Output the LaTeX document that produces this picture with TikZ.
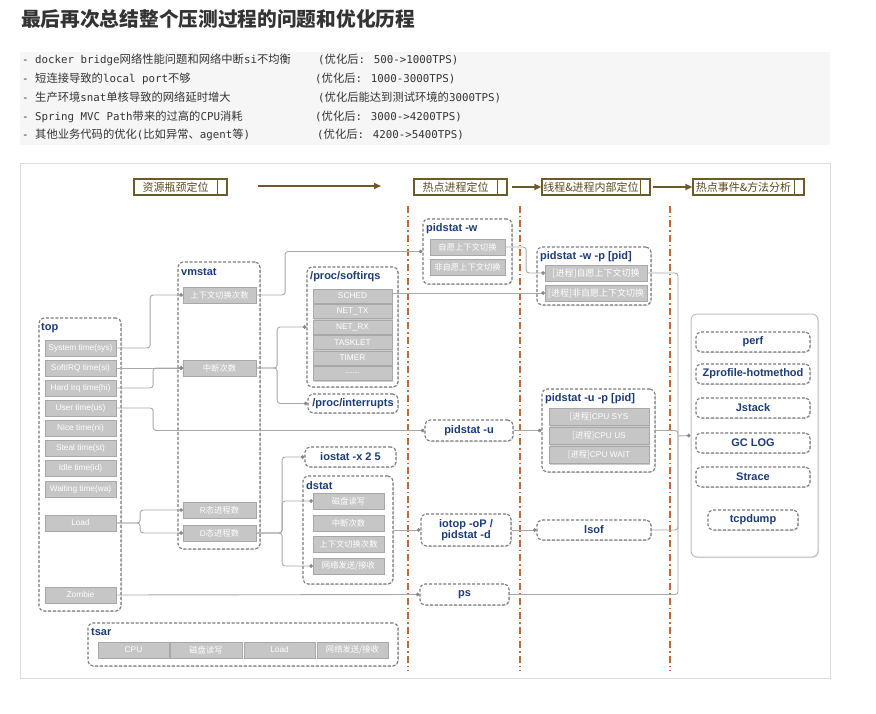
\documentclass[tikz,border=0pt]{standalone}
\usepackage{fontspec}
\setmainfont{Liberation Sans}
\setsansfont{Liberation Sans}
\newfontfamily\cjk{Noto Sans CJK SC}
\newfontfamily\mono{DejaVu Sans Mono}
\usetikzlibrary{arrows.meta,shadows}
\definecolor{ttl}{HTML}{1C3C78}
\definecolor{itemgray}{HTML}{C6C6C6}
\definecolor{dashgray}{HTML}{7A7A7A}
\definecolor{conngray}{HTML}{A8A8A8}
\definecolor{redline}{HTML}{C4683A}
\definecolor{hdrbrown}{HTML}{6E5A28}
\definecolor{hdrtext}{HTML}{5C4A1E}
\definecolor{listbg}{HTML}{F6F6F6}
\definecolor{listtext}{HTML}{333333}
\definecolor{framegray}{HTML}{DDDDDD}
\definecolor{toolborder}{HTML}{C0C0C0}
\newcommand\zh[1]{{\cjk #1}}
\newcommand\zl[1]{{\cjk\fontsize{11.3}{13}\selectfont #1}}
\begin{document}
\begin{tikzpicture}[x=1pt,y=-1pt,
  grp/.style={draw=dashgray, dash pattern=on 3pt off 1.8pt, line width=1.1pt, rounded corners=5pt, fill=white, inner sep=0pt,
    drop shadow={shadow xshift=0.8pt,shadow yshift=-0.8pt,opacity=0.25}},
  item/.style={fill=itemgray, draw=itemgray!85!black, line width=0.3pt, text=white, font=\sffamily\fontsize{8.3}{9}\selectfont,
    inner sep=0pt, minimum height=16pt, drop shadow={shadow xshift=1pt,shadow yshift=-1pt,opacity=0.4}},
  gtitle/.style={anchor=west, text=ttl, font=\sffamily\bfseries\fontsize{11}{12}\selectfont, inner sep=0pt},
  tool/.style={grp, text=ttl, font=\sffamily\bfseries\fontsize{11}{12}\selectfont, align=center},
  toolbox/.style={draw=toolborder, line width=1pt, rounded corners=6pt, fill=white, inner sep=0pt,
    drop shadow={shadow xshift=1pt,shadow yshift=-1pt,opacity=0.2}},
  connl/.style={draw=conngray, line width=0.9pt, rounded corners=3pt},
  conn/.style={connl, -{Circle[length=3.6pt,color=conngray!80!black]}},
  hdr/.style={draw=hdrbrown, line width=1.3pt, fill=white, text=hdrtext, font=\cjk\fontsize{11}{12}\selectfont,
    minimum height=16pt, inner sep=0pt,
    path picture={\draw[hdrbrown, line width=1pt] ([xshift=-10pt]path picture bounding box.north east) -- ([xshift=-10pt]path picture bounding box.south east);}},
  harrow/.style={draw=hdrbrown, line width=1.6pt, -{Triangle[length=7pt,width=6pt]}},
  redl/.style={draw=redline, line width=1.6pt, dash pattern=on 7pt off 3pt on 1.5pt off 3pt},
  lst/.style={anchor=base west, inner sep=0pt, text=listtext, font=\mono\fontsize{10.8}{13}\selectfont}
]
\useasboundingbox (0,0) rectangle (876,714);

% ---- heading and list ----
\node[anchor=base west, inner sep=0pt, text=listtext] (title) at (21,26.5)
  {\cjk\bfseries\fontsize{19.7}{22}\selectfont 最后再次总结整个压测过程的问题和优化历程};
\fill[listbg] (20,52) rectangle (830,145);
\node[lst] (l1) at (22,64) {- docker bridge\zl{网络性能问题和网络中断}si\zl{不均衡}};
\node[lst] (r1) at (318,64) {(\zl{优化后}: 500->1000TPS)};
\node[lst] (l2) at (22,83) {- \zl{短连接导致的}local port\zl{不够}};
\node[lst] (r2) at (315,83) {(\zl{优化后}: 1000-3000TPS)};
\node[lst] (l3) at (22,102) {- \zl{生产环境}snat\zl{单核导致的网络延时增大}};
\node[lst] (r3) at (318,102) {(\zl{优化后能达到测试环境的}3000TPS)};
\node[lst] (l4) at (22,121) {- Spring MVC Path\zl{带来的过高的}CPU\zl{消耗}};
\node[lst] (r4) at (315,121) {(\zl{优化后}: 3000->4200TPS)};
\node[lst] (l5) at (22,139) {- \zl{其他业务代码的优化}(\zl{比如异常、}agent\zl{等})};
\node[lst] (r5) at (317,139) {(\zl{优化后}: 4200->5400TPS)};

% ---- diagram frame ----
\draw[framegray, line width=0.8pt] (20,163) rectangle (830,678);

% ---- phase separators ----
\draw[redl] (408,206) -- (408,671);
\draw[redl] (520,206) -- (520,671);
\draw[redl] (670,206) -- (670,671);

% ---- phase headers ----
\node[hdr, minimum width=93pt] (h1) at (180.5,187) {\hspace{-10pt}资源瓶颈定位};
\node[hdr, minimum width=93pt] (h2) at (460.5,187) {\hspace{-10pt}热点进程定位};
\node[hdr, minimum width=108pt] (h3) at (596,187) {\hspace{-10pt}线程\&进程内部定位};
\node[hdr, minimum width=111pt] (h4) at (748.5,187) {\hspace{-10pt}热点事件\&方法分析};
\coordinate (a1s) at (258,186);
\coordinate (a1e) at (381,186);
\draw[harrow] (a1s) -- (a1e);
\draw[harrow] ([xshift=4pt]h2.east) -- (h3.west);
\draw[harrow] ([xshift=2pt]h3.east) -- (h4.west);

% ---- top ----
\node[grp, minimum width=82pt, minimum height=293pt] (gtop) at (80,464.5) {};
\node[gtitle] (ttop) at (41,328) {top};
\node[item, minimum width=71pt] (tsys) at (80.5,348) {System time(sys)};
\node[item, minimum width=71pt] (tsi) at (80.5,368) {SoftIRQ time(si)};
\node[item, minimum width=71pt] (thi) at (80.5,388) {Hard Irq time(hi)};
\node[item, minimum width=71pt] (tus) at (80.5,408) {User time(us)};
\node[item, minimum width=71pt] (tni) at (80.5,428) {Nice time(ni)};
\node[item, minimum width=71pt] (tst) at (80.5,448) {Steal time(st)};
\node[item, minimum width=71pt] (tid) at (80.5,468) {Idle time(id)};
\node[item, minimum width=71pt] (twa) at (80.5,489) {Waiting time(wa)};
\node[item, minimum width=71pt] (tload) at (80.5,523) {Load};
\node[item, minimum width=71pt] (tzom) at (80.5,595) {Zombie};

% ---- vmstat ----
\node[grp, minimum width=82pt, minimum height=287pt] (gvm) at (219,405.5) {};
\node[gtitle] (tvm) at (181,272) {vmstat};
\node[item, minimum width=73pt] (vctx) at (219.5,295) {\zh{上下文切换次数}};
\node[item, minimum width=73pt] (vint) at (219.5,368) {\zh{中断次数}};
\node[item, minimum width=73pt] (vr) at (219.5,510) {R\zh{态进程数}};
\node[item, minimum width=73pt] (vd) at (219.5,533) {D\zh{态进程数}};

% ---- /proc/softirqs ----
\node[grp, minimum width=91pt, minimum height=120pt] (gsirq) at (352.5,327) {};
\node[gtitle] (tsirq) at (310,277) {/proc/softirqs};
\node[item, minimum width=79pt, minimum height=14pt] (ssched) at (352.5,296) {SCHED};
\node[item, minimum width=79pt, minimum height=14pt] (stx) at (352.5,311.5) {NET\_TX};
\node[item, minimum width=79pt, minimum height=14pt] (srx) at (352.5,327) {NET\_RX};
\node[item, minimum width=79pt, minimum height=14pt] (stask) at (352.5,342.5) {TASKLET};
\node[item, minimum width=79pt, minimum height=14pt] (stimer) at (352.5,358) {TIMER};
\node[item, minimum width=79pt, minimum height=14pt] (sdots) at (352.5,373.5) {......};

\node[tool, minimum width=90pt, minimum height=19pt] (intr) at (353,403.5) {/proc/interrupts};
\node[tool, minimum width=91pt, minimum height=20pt] (iostat) at (350.5,457) {iostat -x 2 5};

% ---- dstat ----
\node[grp, minimum width=90pt, minimum height=108pt] (gdstat) at (348,530) {};
\node[gtitle] (tdstat) at (306,486) {dstat};
\node[item, minimum width=71pt] (ddisk) at (348.5,501) {\zh{磁盘读写}};
\node[item, minimum width=71pt] (dint) at (348.5,523) {\zh{中断次数}};
\node[item, minimum width=71pt] (dctx) at (348.5,544) {\zh{上下文切换次数}};
\node[item, minimum width=71pt] (dnet) at (348.5,566) {\zh{网络发送/接收}};

% ---- pidstat -w ----
\node[grp, minimum width=89pt, minimum height=65pt] (gpw) at (467.5,251.5) {};
\node[gtitle] (tpw) at (426,229) {pidstat -w};
\node[item, minimum width=75pt] (pw1) at (467.5,247) {\zh{自愿上下文切换}};
\node[item, minimum width=75pt] (pw2) at (467.5,267) {\zh{非自愿上下文切换}};

% ---- pidstat -w -p ----
\node[grp, minimum width=114pt, minimum height=58pt] (gpwp) at (594,276) {};
\node[gtitle] (tpwp) at (540,257) {pidstat -w -p [pid]};
\node[item, minimum width=102pt, font=\sffamily\fontsize{9}{10}\selectfont] (pwp1) at (596,273) {\zh{[进程]自愿上下文切换}};
\node[item, minimum width=102pt, font=\sffamily\fontsize{9}{10}\selectfont] (pwp2) at (596,293) {\zh{[进程]非自愿上下文切换}};

% ---- pidstat -u ----
\node[tool, minimum width=88pt, minimum height=21pt] (pu) at (469,430.5) {pidstat -u};
\node[grp, minimum width=113pt, minimum height=83pt] (gpup) at (598.5,430.5) {};
\node[gtitle] (tpup) at (545,399) {pidstat -u -p [pid]};
\node[item, minimum width=100pt, minimum height=17pt] (pup1) at (599,417) {\zh{[进程]}CPU SYS};
\node[item, minimum width=100pt, minimum height=17pt] (pup2) at (599,436) {\zh{[进程]}CPU US};
\node[item, minimum width=100pt, minimum height=17pt] (pup3) at (599,455) {\zh{[进程]}CPU WAIT};

% ---- io / ps ----
\node[tool, minimum width=90pt, minimum height=32pt] (iotop) at (466,530) {iotop -oP /\\[-1pt]pidstat -d};
\node[tool, minimum width=114pt, minimum height=20pt] (lsof) at (594,530) {lsof};
\node[tool, minimum width=89pt, minimum height=21pt] (ps) at (464.5,594.5) {ps};

% ---- tools ----
\node[toolbox, minimum width=127pt, minimum height=243pt] (gtools) at (754.5,435.5) {};
\node[tool, minimum width=114pt, minimum height=20pt] (perf) at (753,342) {perf};
\node[tool, minimum width=114pt, minimum height=20pt] (zprof) at (753,374) {Zprofile-hotmethod};
\node[tool, minimum width=114pt, minimum height=20pt] (jstack) at (753,408) {Jstack};
\node[tool, minimum width=114pt, minimum height=20pt] (gclog) at (753,443) {GC LOG};
\node[tool, minimum width=114pt, minimum height=20pt] (strace) at (753,477) {Strace};
\node[tool, minimum width=90pt, minimum height=20pt] (tcpdump) at (753,520) {tcpdump};

% ---- tsar ----
\node[grp, minimum width=310pt, minimum height=43pt] (gtsar) at (243,644.5) {};
\node[gtitle] (ttsar) at (91,632) {tsar};
\node[item, minimum width=71pt] (xcpu) at (133.5,650) {CPU};
\node[item, minimum width=72pt] (xdisk) at (206,650) {\zh{磁盘读写}};
\node[item, minimum width=71pt] (xload) at (279.5,650) {Load};
\node[item, minimum width=71pt] (xnet) at (352.5,650) {\zh{网络发送/接收}};

% ---- connectors ----
\draw[conn] (tsys.east) -- ++(34,0) |- (vctx.west);
\draw[conn] (vctx.east) -- ++(29,0) |- (gpw.west);
\draw[conn] (ssched.east |- pwp2.west) -- (pwp2.west);
\draw[conn] (tsi.east) -- (vint.west);
\draw[conn] (thi.east) -- ++(37,0) |- (vint.west);
\draw[conn] (vint.east) -- ++(21,0) |- (gsirq.west);
\draw[conn] (vint.east) -- ++(21,0) |- (intr.west);
\draw[conn] (tus.east) -- ++(37,0) |- (pu.west);
\draw[conn] (pu.east) -- (gpup.west);
\draw[conn] (pw1.east) -- ++(21,0) |- (pwp1.west);
\coordinate (bus) at (678,436);
\draw[connl] (pwp1.east) -| (bus);
\draw[connl] (gpup.east) -| (bus);
\draw[connl] (lsof.east) -| (bus);
\draw[connl] (ps.east) -| (bus);
\draw[conn] (bus) -- (gtools.west);
\draw[conn] (tload.east) -- ++(24,0) |- (vr.west);
\draw[conn] (tload.east) -- ++(24,0) |- (vd.west);
\draw[conn] (vd.east) -- ++(26,0) |- (iostat.west);
\draw[conn] (vd.east) -- ++(26,0) |- (ddisk.west);
\draw[conn] (vd.east) -- ++(26,0) |- (dnet.west);
\draw[conn] (gdstat.east) -- (iotop.west);
\draw[conn] (iotop.east) -- (lsof.west);
\draw[conn] (tzom.east) -- (ps.west);
\end{tikzpicture}
\end{document}
